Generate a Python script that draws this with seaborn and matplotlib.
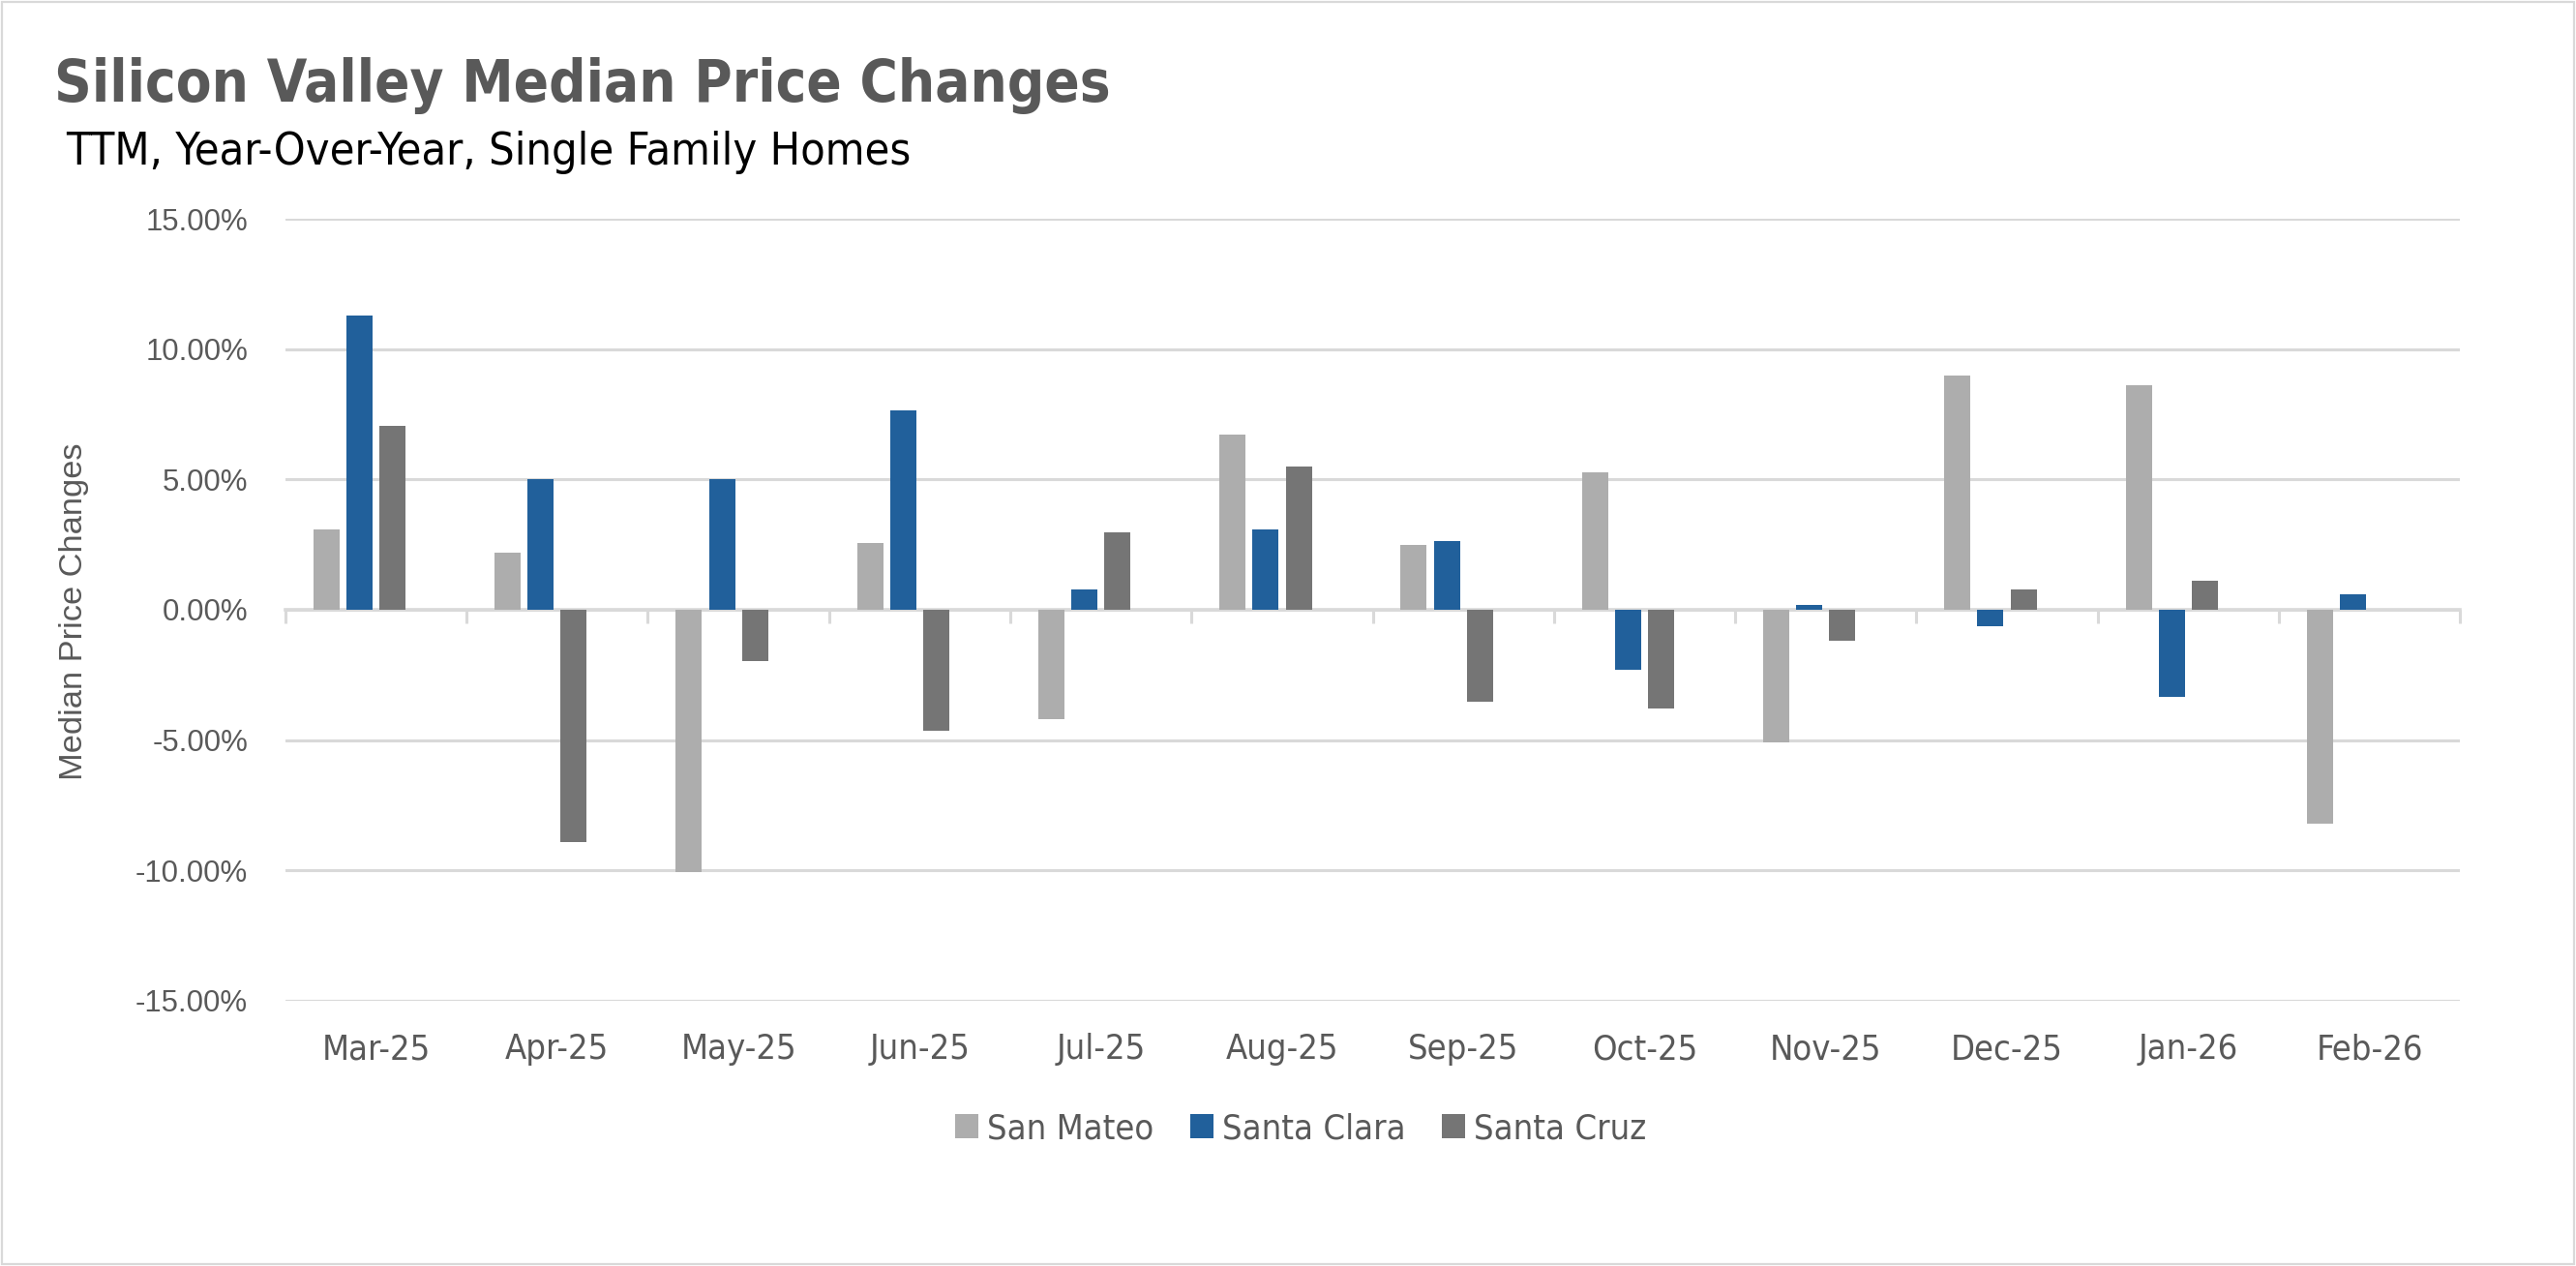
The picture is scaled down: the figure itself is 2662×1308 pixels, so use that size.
import numpy as np
import pandas as pd
import matplotlib
matplotlib.use('Agg')
import matplotlib.pyplot as plt
from matplotlib.patches import Patch, Rectangle
import seaborn as sns

# Data (in percent)
months = ['Mar-25', 'Apr-25', 'May-25', 'Jun-25', 'Jul-25', 'Aug-25',
          'Sep-25', 'Oct-25', 'Nov-25', 'Dec-25', 'Jan-26', 'Feb-26']
san_mateo = [3.10, 2.19, -10.05, 2.55, -4.18, 6.73, 2.50, 5.26, -5.07, 9.00, 8.62, -8.20]
santa_clara = [11.29, 5.00, 5.00, 7.65, 0.78, 3.10, 2.62, -2.30, 0.20, -0.63, -3.33, 0.61]
santa_cruz = [7.07, -8.93, -1.97, -4.63, 2.96, 5.51, -3.52, -3.78, -1.19, 0.78, 1.12, np.nan]
series_names = ['San Mateo', 'Santa Clara', 'Santa Cruz']
y_ticks = [-15, -10, -5, 0, 5, 10, 15]

# Styling
colors = ['#adadad', '#21609b', '#757575']
TEXT = '#595959'
GRID = '#d9d9d9'

sns.set_style('white')
plt.rcParams['font.family'] = ['DejaVu Sans']
plt.rcParams['font.stretch'] = 'condensed'

df = pd.DataFrame({
    'month': months * 3,
    'county': np.repeat(series_names, len(months)),
    'change': san_mateo + santa_clara + santa_cruz,
})

# Excel reserves a fourth (empty) slot in each group
hue_order = series_names + [' ']
palette = dict(zip(hue_order, colors + ['white']))

fig = plt.figure(figsize=(13.31, 6.54), dpi=200)
ax = fig.add_axes([0.1108, 0.2095, 0.8442, 0.6177])

sns.barplot(data=df, x='month', y='change', hue='county', order=months,
            hue_order=hue_order, palette=palette, saturation=1, width=0.73, gap=0.21,
            errorbar=None, linewidth=0, legend=False, ax=ax, zorder=3)

ax.set_ylim(-15, 15)
ax.set_xlim(-0.5, len(months) - 0.5)
ax.set_yticks(y_ticks)
ax.set_yticklabels([f'{v:.2f}%' for v in y_ticks])
ax.yaxis.grid(True, color=GRID, linewidth=1.1, zorder=0)
ax.set_axisbelow(True)
for s in ax.spines.values():
    s.set_visible(False)
ax.tick_params(axis='both', length=0, labelcolor=TEXT)
ax.tick_params(axis='y', pad=14)
ax.tick_params(axis='x', pad=12, labelsize=13)
for lbl in ax.get_yticklabels():
    lbl.set_fontfamily('Liberation Sans')
    lbl.set_fontstretch('normal')
    lbl.set_fontsize(11.2)
ax.set_xlabel('')
ax.set_ylabel('')

# zero line with category boundary ticks
zax = ax.secondary_xaxis(0.5)
zax.set_xticks(np.arange(len(months) + 1) - 0.5)
zax.set_xticklabels([])
zax.tick_params(length=5, width=1.1, color=GRID, direction='in')
for s in zax.spines.values():
    s.set_color(GRID)
    s.set_linewidth(1.3)

fig.text(0.0287, 0.517, 'Median Price Changes', rotation=90, ha='center',
         va='center', fontsize=12.4, color=TEXT, family='Liberation Sans',
         fontstretch='normal')

fig.text(0.021, 0.92, 'Silicon Valley Median Price Changes', fontsize=21.5,
         fontweight='bold', color=TEXT, ha='left', va='baseline')
fig.text(0.0255, 0.870, 'TTM, Year-Over-Year, Single Family Homes', fontsize=16.8,
         color='black', ha='left', va='baseline')

handles = [Patch(facecolor=c, edgecolor='none') for c in colors]
fig.legend(handles, series_names, loc='center', bbox_to_anchor=(0.505, 0.1085),
           ncol=3, frameon=False, fontsize=13, labelcolor=TEXT,
           handlelength=0.66, handleheight=0.66, handletextpad=0.25, columnspacing=1.05)

fig.patches.append(Rectangle((0.0008, 0.0015), 0.9984, 0.997, transform=fig.transFigure,
                             fill=False, edgecolor=GRID, linewidth=0.8))

fig.savefig('out.png', dpi=200)
